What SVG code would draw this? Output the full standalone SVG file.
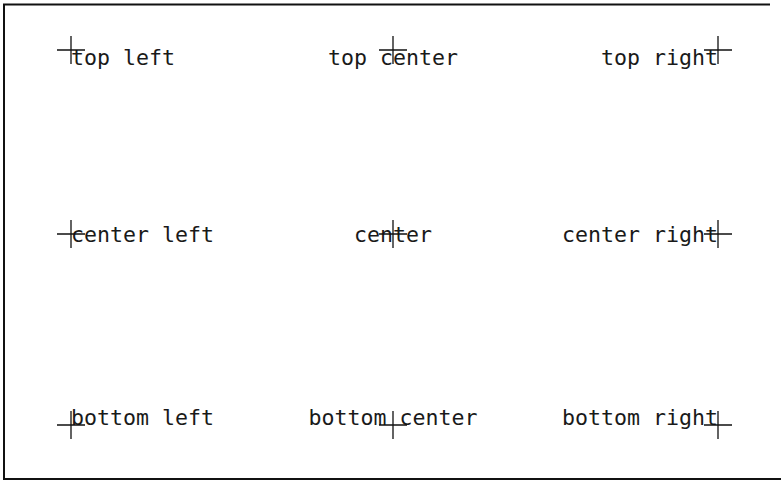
<svg xmlns="http://www.w3.org/2000/svg" width="782" height="481" viewBox="0 0 782 481">
<style>
text{font-family:"DejaVu Sans Mono","Liberation Mono",monospace;font-size:21.6px;fill:#1a1a1a}
.s{text-anchor:start}.m{text-anchor:middle}.e{text-anchor:end}
.x{stroke:#111;stroke-width:1.3;fill:none}
.f{stroke:#111;stroke-width:2;fill:none}
</style>
<defs>
<path id="cross" class="x" d="M-14 0H14M0 -14V14"/>
</defs>
<rect width="782" height="481" fill="#fff"/>
<g id="frame"><path class="f" d="M4 4V479M3 4.5H770M3 479H781"/></g>
<g id="connectors"></g>
<g id="top-left"><text class="s" x="71" y="65">top left</text><use href="#cross" x="71" y="50"/></g>
<g id="top-center"><text class="m" x="393" y="65">top center</text><use href="#cross" x="393" y="50"/></g>
<g id="top-right"><text class="e" x="718" y="65">top right</text><use href="#cross" x="718" y="50"/></g>
<g id="center-left"><text class="s" x="71" y="242">center left</text><use href="#cross" x="71" y="234"/></g>
<g id="center"><text class="m" x="393" y="242">center</text><use href="#cross" x="393" y="234"/></g>
<g id="center-right"><text class="e" x="718" y="242">center right</text><use href="#cross" x="718" y="234"/></g>
<g id="bottom-left"><text class="s" x="71" y="425">bottom left</text><use href="#cross" x="71" y="425"/></g>
<g id="bottom-center"><text class="m" x="393" y="425">bottom center</text><use href="#cross" x="393" y="425"/></g>
<g id="bottom-right"><text class="e" x="718" y="425">bottom right</text><use href="#cross" x="718" y="425"/></g>
</svg>
